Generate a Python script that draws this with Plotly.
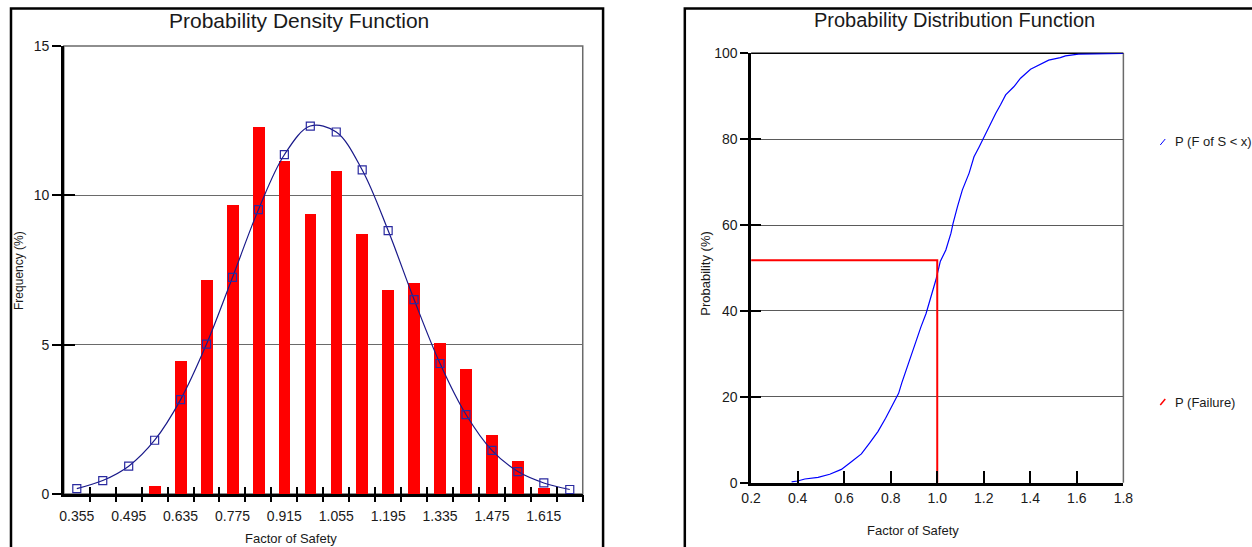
import plotly.graph_objects as go

# ---------------- data ----------------
# Probability density (histogram) - bin centres every 0.07
bin_centers = [0.355, 0.425, 0.495, 0.565, 0.635, 0.705, 0.775, 0.845, 0.915, 0.985,
               1.055, 1.125, 1.195, 1.265, 1.335, 1.405, 1.475, 1.545, 1.615, 1.685]
bar_freq = [0.0, 0.0, 0.0, 0.26, 4.47, 7.17, 9.66, 12.28, 11.16, 9.36,
            10.82, 8.72, 6.82, 7.08, 5.07, 4.17, 1.97, 1.11, 0.19, 0.0]
fit_freq = [0.18, 0.45, 0.93, 1.80, 3.16, 5.02, 7.25, 9.52, 11.36, 12.32,
            12.12, 10.85, 8.82, 6.51, 4.37, 2.66, 1.46, 0.75, 0.37, 0.15]
pdf_label_vals = [0.355, 0.495, 0.635, 0.775, 0.915, 1.055, 1.195, 1.335, 1.475, 1.615]
pdf_label_text = ["0.355", "0.495", "0.635", "0.775", "0.915", "1.055", "1.195", "1.335", "1.475", "1.615"]
pdf_tick_edges = [0.39, 0.46, 0.53, 0.60, 0.67, 0.74, 0.81, 0.88, 0.95, 1.02,
                  1.09, 1.16, 1.23, 1.30, 1.37, 1.44, 1.51, 1.58, 1.65, 1.72]
pdf_y_ticks = [0, 5, 10, 15]

# Cumulative distribution
cdf_x = [0.374, 0.40, 0.431, 0.488, 0.538, 0.588, 0.631, 0.674, 0.709, 0.745,
         0.778, 0.809, 0.834, 0.848, 0.866, 0.887, 0.909, 0.930, 0.952, 0.973,
         0.994, 1.013, 1.037, 1.059, 1.068, 1.087, 1.108, 1.137, 1.158, 1.180,
         1.201, 1.222, 1.251, 1.272, 1.294, 1.329, 1.358, 1.401, 1.444, 1.479,
         1.529, 1.551, 1.607, 1.8]
cdf_y = [0.2, 0.4, 0.86, 1.26, 1.96, 3.1, 4.9, 6.7, 9.2, 11.9,
         15.0, 18.1, 20.8, 23.3, 26.2, 29.3, 32.8, 36.3, 39.4, 43.3,
         47.2, 51.5, 54.2, 58.1, 60.4, 64.3, 68.2, 72.1, 75.9, 78.2,
         80.6, 82.9, 86.0, 88.0, 90.3, 92.2, 94.2, 96.3, 97.4, 98.4,
         99.0, 99.4, 99.8, 100.0]
fail_fs = 1.0
fail_prob = 51.8
cdf_x_ticks = [0.2, 0.4, 0.6, 0.8, 1.0, 1.2, 1.4, 1.6, 1.8]
cdf_y_ticks = [0, 20, 40, 60, 80, 100]

W, H = 1252, 547
# map reference-picture pixel positions to paper coordinates
OFF, PW, PH = 8, 1236, 531
def px(x):
    return (x - OFF) / PW
def py(y):
    return 1 - (y - OFF) / PH

FONT = "Liberation Sans, Arial, sans-serif"
TXT = "#1a1a1a"

fig = go.Figure()

# ---------------- left: PDF ----------------
fig.add_trace(go.Bar(x=bin_centers, y=bar_freq, width=0.032, marker=dict(color="#ff0000", line=dict(width=0)),
                     xaxis="x", yaxis="y", hoverinfo="skip"))
fig.add_trace(go.Scatter(x=bin_centers, y=fit_freq, mode="lines+markers", line=dict(color="#1a1a8a", width=1.2, shape="spline"),
                         marker=dict(symbol="square-open", size=8, color="#2a2aa0", line=dict(width=1.2)),
                         xaxis="x", yaxis="y"))
# empty traces for tick overlay axes
for xa, ya in [("x3", "y"), ("x4", "y"), ("x", "y3"), ("x5", "y2"), ("x2", "y4")]:
    fig.add_trace(go.Scatter(x=[], y=[], xaxis=xa, yaxis=ya, showlegend=False))

# ---------------- right: CDF ----------------
fig.add_trace(go.Scatter(x=cdf_x, y=cdf_y, mode="lines", line=dict(color="#0000ff", width=1.2),
                         xaxis="x2", yaxis="y2"))
fig.add_trace(go.Scatter(x=[cdf_x_ticks[0], fail_fs, fail_fs], y=[fail_prob, fail_prob, 0], mode="lines",
                         line=dict(color="#ff0000", width=2), xaxis="x2", yaxis="y2"))

xl_dom = [px(62), px(582.6)]
yl_dom = [py(494), py(46)]
xr_dom = [px(751.5), px(1125)]
yr_dom = [py(482.7), py(53.3)]

tickfont = dict(family=FONT, size=14, color=TXT)
base = dict(showgrid=False, zeroline=False, fixedrange=True)

fig.update_layout(
    width=W, height=H, margin=dict(l=0, r=0, t=0, b=0),
    paper_bgcolor="white", plot_bgcolor="white", showlegend=False, bargap=0,
    xaxis=dict(domain=xl_dom, range=[0.32, 1.72], anchor="y", tickvals=pdf_label_vals, ticktext=pdf_label_text,
               ticks="outside", ticklen=4, tickcolor="rgba(0,0,0,0)", ticklabelstandoff=3,
               showline=True, linecolor="black", linewidth=2.5, tickfont=tickfont, **base),
    xaxis3=dict(overlaying="x", range=[0.32, 1.72], anchor="y", tickvals=pdf_tick_edges, ticks="outside",
                ticklen=7, tickwidth=2, tickcolor="black", showticklabels=False, showline=False, **base),
    xaxis4=dict(overlaying="x", range=[0.32, 1.72], anchor="y", tickvals=pdf_tick_edges, ticks="inside",
                ticklen=7, tickwidth=2, tickcolor="black", showticklabels=False, showline=False, **base),
    yaxis=dict(domain=yl_dom, range=[0, 15], anchor="x", tickvals=pdf_y_ticks, ticks="outside", ticklen=9,
               tickwidth=2, tickcolor="black", showline=True, linecolor="black", linewidth=2.5,
               showgrid=True, gridcolor="#6a6a6a", gridwidth=1.3, zeroline=False, fixedrange=True,
               tickfont=tickfont),
    yaxis3=dict(overlaying="y", range=[0, 15], anchor="x", tickvals=pdf_y_ticks, ticks="inside", ticklen=11,
                tickwidth=2, tickcolor="black", showticklabels=False, showline=False, **base),
    xaxis2=dict(domain=xr_dom, range=[0.2, 1.8], anchor="y2", tickvals=cdf_x_ticks, tickformat=".1f",
                ticks="inside", ticklen=12, tickwidth=2, tickcolor="black", ticklabelstandoff=1,
                showline=True, linecolor="black", linewidth=2.5, tickfont=tickfont, **base),
    yaxis2=dict(domain=yr_dom, range=[0, 100], anchor="x2", tickvals=cdf_y_ticks, ticks="outside", ticklen=8,
                tickwidth=2, tickcolor="black", showline=True, linecolor="black", linewidth=2.5,
                showgrid=True, gridcolor="#5a5a5a", gridwidth=1.3, zeroline=False, fixedrange=True,
                tickfont=tickfont),
    yaxis4=dict(overlaying="y2", range=[0, 100], anchor="x2", tickvals=cdf_y_ticks, ticks="inside", ticklen=10,
                tickwidth=2, tickcolor="black", showticklabels=False, showline=False, **base),
    xaxis5=dict(overlaying="x2", range=[0.2, 1.8], anchor="y2", visible=False, **base),
)

shapes = [
    # panel frames
    dict(type="rect", xref="paper", yref="paper", x0=px(9), x1=px(603), y0=-0.1, y1=py(8.5),
         line=dict(color="black", width=2.5), layer="below"),
    dict(type="rect", xref="paper", yref="paper", x0=px(685), x1=1.1, y0=-0.1, y1=py(8.5),
         line=dict(color="black", width=2.5), layer="below"),
    # plot frames (top / right)
    dict(type="rect", xref="x domain", yref="y domain", x0=0, x1=1, y0=0, y1=1,
         line=dict(color="#6a6a6a", width=1.5), layer="below"),
    dict(type="line", xref="x2 domain", yref="y2 domain", x0=1, x1=1, y0=0, y1=1,
         line=dict(color="#6a6a6a", width=1.5), layer="below"),
    dict(type="line", xref="x2 domain", yref="y2 domain", x0=0, x1=1, y0=1, y1=1,
         line=dict(color="black", width=1.5), layer="below"),
    # legend symbols
    dict(type="line", xref="paper", yref="paper", x0=px(1162), x1=px(1167), y0=py(145), y1=py(139),
         line=dict(color="#0000ff", width=1)),
    dict(type="line", xref="paper", yref="paper", x0=px(1162), x1=px(1167), y0=py(405), y1=py(399),
         line=dict(color="#ff0000", width=1.5)),
]
fig.update_layout(shapes=shapes)

ann = [
    dict(text="Probability Density Function", x=px(298), y=py(20), size=21),
    dict(text="Probability Distribution Function", x=px(956), y=py(20), size=20),
    dict(text="Frequency (%)", x=px(17), y=py(270), size=12, angle=-90),
    dict(text="Probability (%)", x=px(705), y=py(273), size=13, angle=-90),
    dict(text="Factor of Safety", x=px(290), y=py(538), size=13),
    dict(text="Factor of Safety", x=px(914), y=py(530), size=13),
]
annotations = []
for a in ann:
    annotations.append(dict(text=a["text"], x=a["x"], y=a["y"], xref="paper", yref="paper",
                            xanchor="center", yanchor="middle", showarrow=False,
                            textangle=a.get("angle", 0), font=dict(family=FONT, size=a["size"], color=TXT)))
annotations.append(dict(text="P (F of S &lt; x)", x=px(1175), y=py(142), xref="paper", yref="paper",
                        xanchor="left", yanchor="middle", showarrow=False,
                        font=dict(family=FONT, size=13, color=TXT)))
annotations.append(dict(text="P (Failure)", x=px(1175), y=py(402), xref="paper", yref="paper",
                        xanchor="left", yanchor="middle", showarrow=False,
                        font=dict(family=FONT, size=13, color=TXT)))
fig.update_layout(annotations=annotations)

fig.write_html("out.html")
